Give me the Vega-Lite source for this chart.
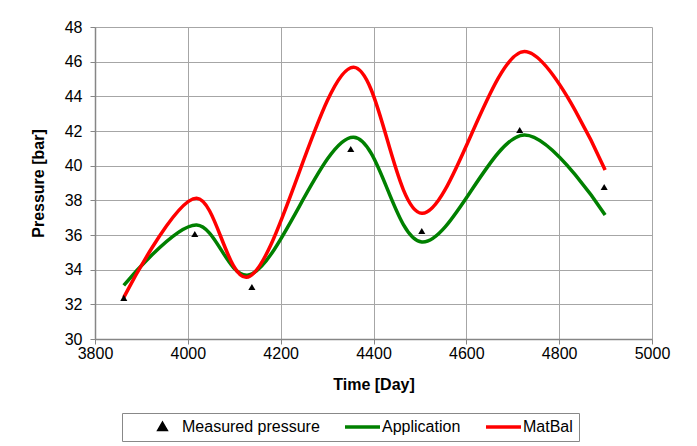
{
  "$schema": "https://vega.github.io/schema/vega-lite/v6.json",
  "width": 557,
  "height": 312,
  "autosize": {"type": "none"},
  "padding": {"left": 95, "top": 27, "right": 45, "bottom": 107},
  "background": "white",
  "config": {
    "font": "Liberation Sans",
    "view": {"stroke": null},
    "axis": {
      "labelFont": "Liberation Sans",
      "labelFontSize": 16,
      "labelColor": "black",
      "titleFont": "Liberation Sans",
      "titleFontSize": 16,
      "titleFontWeight": "bold",
      "titleColor": "black",
      "gridColor": "#a6a6a6",
      "gridWidth": 1,
      "gridOpacity": 1,
      "domainColor": "#868686",
      "domainWidth": 1.5,
      "tickColor": "#868686",
      "tickWidth": 1,
      "tickSize": 5,
      "labelFlush": false
    }
  },
  "data": {
    "values": [
      {"series": "Measured pressure", "t": 3862, "p": 32.37},
      {"series": "Measured pressure", "t": 4015, "p": 36.06},
      {"series": "Measured pressure", "t": 4138, "p": 33.0},
      {"series": "Measured pressure", "t": 4351, "p": 40.96},
      {"series": "Measured pressure", "t": 4504, "p": 36.23},
      {"series": "Measured pressure", "t": 4715, "p": 42.06},
      {"series": "Measured pressure", "t": 4897, "p": 38.77},
      {"series": "Application", "t": 3862, "p": 33.1},
      {"series": "Application", "t": 4019, "p": 36.58},
      {"series": "Application", "t": 4128, "p": 33.68},
      {"series": "Application", "t": 4357, "p": 41.64},
      {"series": "Application", "t": 4504, "p": 35.6},
      {"series": "Application", "t": 4725, "p": 41.77},
      {"series": "Application", "t": 4899, "p": 37.15},
      {"series": "MatBal", "t": 3862, "p": 32.4},
      {"series": "MatBal", "t": 4019, "p": 38.12},
      {"series": "MatBal", "t": 4126, "p": 33.56},
      {"series": "MatBal", "t": 4357, "p": 45.68},
      {"series": "MatBal", "t": 4504, "p": 37.25},
      {"series": "MatBal", "t": 4725, "p": 46.58},
      {"series": "MatBal", "t": 4899, "p": 39.75}
    ]
  },
  "encoding": {
    "x": {
      "field": "t", "type": "quantitative",
      "scale": {"domain": [3800, 5000], "nice": false, "zero": false},
      "axis": {"values": [3800, 4000, 4200, 4400, 4600, 4800, 5000], "title": "Time [Day]", "labelPadding": 1, "titlePadding": 15, "format": "d"}
    },
    "y": {
      "field": "p", "type": "quantitative",
      "scale": {"domain": [30, 48], "nice": false, "zero": false},
      "axis": {"values": [30, 32, 34, 36, 38, 40, 42, 44, 46, 48], "title": "Pressure [bar]", "labelPadding": 8, "titlePadding": 18}
    },
    "color": {
      "field": "series", "type": "nominal",
      "scale": {"domain": ["Measured pressure", "Application", "MatBal"], "range": ["black", "#008000", "#ff0000"]},
      "legend": {
        "orient": "none",
        "legendX": 27,
        "legendY": 386,
        "direction": "horizontal",
        "title": " ",
        "titleOrient": "left",
        "titleFontSize": 16,
        "titlePadding": 15,
        "strokeColor": "#888888",
        "padding": 6,
        "clipHeight": 16,
        "labelFont": "Liberation Sans",
        "labelFontSize": 16,
        "labelColor": "black",
        "labelOffset": 0,
        "columnPadding": 23,
        "symbolSize": 1225,
        "symbolStrokeWidth": 3.5,
        "symbolType": "stroke",
        "labelExpr": "datum.label === 'MatBal' ? 'MatBal\u00a0\u00a0\u00a0\u00a0\u00a0\u00a0' : datum.label",
        "encode": {
          "symbols": {
            "update": {
              "size": {"value": 1225},
              "strokeWidth": {"value": 3.5},
              "shape": {"signal": "datum.label === 'Measured pressure' ? 'M0,-0.17L0.18,0.14L-0.18,0.14Z' : 'stroke'"},
              "fill": {"signal": "datum.label === 'Measured pressure' ? 'black' : 'transparent'"},
              "stroke": {"signal": "datum.label === 'Measured pressure' ? 'transparent' : (datum.label === 'Application' ? '#008000' : '#ff0000')"}
            }
          }
        }
      }
    }
  },
  "layer": [
    {
      "transform": [{"filter": "datum.series === 'Application'"}],
      "mark": {"type": "line", "interpolate": "catmull-rom", "strokeWidth": 3.5}
    },
    {
      "transform": [{"filter": "datum.series === 'MatBal'"}],
      "mark": {"type": "line", "interpolate": "catmull-rom", "strokeWidth": 3.5}
    },
    {
      "transform": [{"filter": "datum.series === 'Measured pressure'"}],
      "mark": {"type": "point", "shape": "triangle-up", "filled": true, "size": 50, "opacity": 1}
    }
  ]
}
